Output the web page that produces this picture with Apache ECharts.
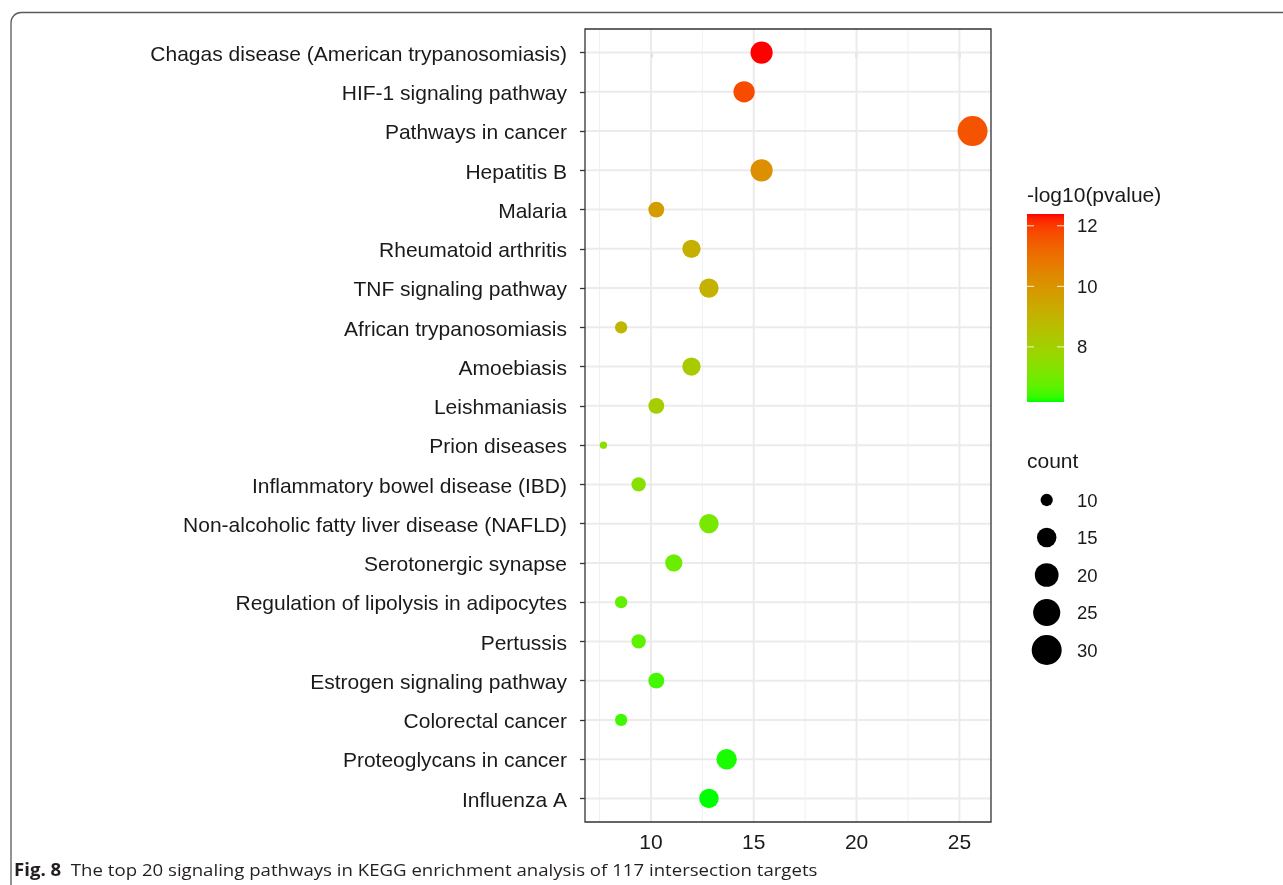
<!DOCTYPE html>
<html><head><meta charset="utf-8">
<script src="https://cdn.jsdelivr.net/npm/echarts@6/dist/echarts.min.js"></script>
<style>html,body{margin:0;padding:0;background:#fff}#c{width:1283px;height:885px}</style>
</head><body><div id="c"></div>
<script>
// ---------------- data ----------------
const pathways = [
  'Chagas disease (American trypanosomiasis)',
  'HIF-1 signaling pathway',
  'Pathways in cancer',
  'Hepatitis B',
  'Malaria',
  'Rheumatoid arthritis',
  'TNF signaling pathway',
  'African trypanosomiasis',
  'Amoebiasis',
  'Leishmaniasis',
  'Prion diseases',
  'Inflammatory bowel disease (IBD)',
  'Non-alcoholic fatty liver disease (NAFLD)',
  'Serotonergic synapse',
  'Regulation of lipolysis in adipocytes',
  'Pertussis',
  'Estrogen signaling pathway',
  'Colorectal cancer',
  'Proteoglycans in cancer',
  'Influenza A'
];
const ratioPct = [15.38, 14.53, 25.64, 15.38, 10.26, 11.97, 12.82, 8.55, 11.97, 10.26,
                  7.69, 9.40, 12.82, 11.11, 8.55, 9.40, 10.26, 8.55, 13.68, 12.82];
const counts   = [18, 17, 30, 18, 12, 14, 15, 10, 14, 12, 9, 11, 15, 13, 10, 11, 12, 10, 16, 15];
const negLogP  = [12.39, 11.75, 11.6, 10.15, 9.75, 9.15, 9.05, 8.9, 8.15, 8.05,
                  7.55, 7.38, 7.08, 6.88, 6.75, 6.7, 6.45, 6.42, 6.26, 6.18];
const xTicks = [10, 15, 20, 25];
const xMinor = [7.5, 12.5, 17.5, 22.5];
const colorTicks = [8, 10, 12];
const sizeLegend = [10, 15, 20, 25, 30];
const caption = 'The top 20 signaling pathways in KEGG enrichment analysis of 117 intersection targets';

// ---------------- helpers ----------------
function s2l(c){c/=255;return c<=0.04045?c/12.92:Math.pow((c+0.055)/1.055,2.4);}
function l2s(c){c=Math.max(0,Math.min(1,c));return Math.round(255*(c<=0.0031308?12.92*c:1.055*Math.pow(c,1/2.4)-0.055));}
function rgb2lab(rgb){const R=s2l(rgb[0]),G=s2l(rgb[1]),B=s2l(rgb[2]);
  const X=(0.4124*R+0.3576*G+0.1805*B)/0.95047,Y=0.2126*R+0.7152*G+0.0722*B,Z=(0.0193*R+0.1192*G+0.9505*B)/1.08883;
  const f=t=>t>0.008856?Math.cbrt(t):7.787*t+16/116;const fx=f(X),fy=f(Y),fz=f(Z);
  return [116*fy-16,500*(fx-fy),200*(fy-fz)];}
function lab2rgb(lab){const fy=(lab[0]+16)/116,fx=fy+lab[1]/500,fz=fy-lab[2]/200;
  const fi=t=>t>0.206893?t*t*t:(t-16/116)/7.787;
  const X=fi(fx)*0.95047,Y=fi(fy),Z=fi(fz)*1.08883;
  const R=3.2406*X-1.5372*Y-0.4986*Z,G=-0.9689*X+1.8758*Y+0.0415*Z,B=0.0557*X-0.2040*Y+1.0570*Z;
  return 'rgb('+l2s(R)+','+l2s(G)+','+l2s(B)+')';}
const labLow = rgb2lab([0,255,0]), labHigh = rgb2lab([255,0,0]);
function rampColor(t){return lab2rgb([0,1,2].map(k=>labLow[k]+(labHigh[k]-labLow[k])*t));}
const NSTOP = 40;
const rampStops = [];
for (let i=0;i<=NSTOP;i++) rampStops.push(rampColor(i/NSTOP));

const pMin = Math.min(...negLogP), pMax = Math.max(...negLogP);
const cMin = Math.min(...counts), cMax = Math.max(...counts);
function sizeFn(c){return 4.53*(1+5*Math.sqrt(Math.max(0,(c-cMin)/(cMax-cMin)))+0.62);}

// ---------------- layout ----------------
const FONT = '"Liberation Sans", Arial, Helvetica, sans-serif';
const G = {left:585, top:29, width:406, height:793};
const span = Math.max(...ratioPct)-Math.min(...ratioPct);
const xMin = Math.min(...ratioPct)-0.05*span, xMax = Math.max(...ratioPct)+0.05*span;

const vLines = xMinor.map(v=>[v, 0, 1]).concat(xTicks.map(v=>[v, 0, 2]));
const hLines = pathways.map((p,i)=>[xMin, i, 2]);

const chart = echarts.init(document.getElementById('c'), null, {renderer:'canvas'});

// colorbar graphic
const CB = {x:1027, y:214, w:37, h:188};
const cbStops = [];
for (let i=0;i<=NSTOP;i++) cbStops.push({offset:i/NSTOP, color:rampColor(1-i/NSTOP)});
const graphics = [];
graphics.push({type:'rect', silent:true, shape:{x:11, y:12.5, width:1400, height:1000, r:[10,0,0,0]},
  style:{fill:'none', stroke:'#5a5a5a', lineWidth:1.3}});
graphics.push({type:'text', style:{x:1027, y:196, text:'-log10(pvalue)', fill:'#1a1a1a', font:'21px '+FONT, align:'left', verticalAlign:'middle'}});
graphics.push({type:'rect', shape:{x:CB.x, y:CB.y, width:CB.w, height:CB.h},
  style:{fill:new echarts.graphic.LinearGradient(0,0,0,1,cbStops)}});
colorTicks.forEach(v=>{
  const y = CB.y + (pMax-v)/(pMax-pMin)*CB.h;
  graphics.push({type:'line', shape:{x1:CB.x, y1:y, x2:CB.x+7, y2:y}, style:{stroke:'rgba(255,255,255,0.85)', lineWidth:1}});
  graphics.push({type:'line', shape:{x1:CB.x+CB.w-7, y1:y, x2:CB.x+CB.w, y2:y}, style:{stroke:'rgba(255,255,255,0.85)', lineWidth:1}});
  graphics.push({type:'text', style:{x:1077, y:y+1.5, text:String(v), fill:'#1a1a1a', font:'18.5px '+FONT, align:'left', verticalAlign:'middle'}});
});
graphics.push({type:'text', style:{x:1027, y:462, text:'count', fill:'#1a1a1a', font:'21px '+FONT, align:'left', verticalAlign:'middle'}});
sizeLegend.forEach((c,i)=>{
  const y = 500 + i*37.5;
  graphics.push({type:'circle', shape:{cx:1046.7, cy:y, r:sizeFn(c)/2}, style:{fill:'#000'}});
  graphics.push({type:'text', style:{x:1077, y:y+1.5, text:String(c), fill:'#1a1a1a', font:'18.5px '+FONT, align:'left', verticalAlign:'middle'}});
});
graphics.push({type:'text', x:14, y:871, scaleX:1.095, originX:0, originY:0,
  style:{x:0, y:0, text:'{b|Fig. 8}  '+caption, fill:'#231f20',
  font:'17px "Open Sans", sans-serif', verticalAlign:'middle',
  rich:{b:{fontWeight:'bold', fontSize:17, fontFamily:'"Open Sans", sans-serif', fill:'#231f20'}}}});

const option = {
  animation:false,
  backgroundColor:'#fff',
  grid:{left:G.left, top:G.top, width:G.width, height:G.height, show:true, borderColor:'#333', borderWidth:1.3, backgroundColor:'transparent', z:2},
  xAxis:{type:'value', min:xMin, max:xMax,
    axisLine:{show:false}, splitLine:{show:false},
    axisTick:{show:true, length:5, lineStyle:{color:'#333', width:1.3}, customValues:xTicks},
    axisLabel:{customValues:xTicks, color:'#1a1a1a', fontSize:21, fontFamily:FONT, margin:11}},
  yAxis:{type:'value', inverse:true, min:-0.6, max:pathways.length-1+0.6,
    axisLine:{show:false}, splitLine:{show:false},
    axisTick:{show:true, length:5, lineStyle:{color:'#333', width:1.3}, customValues:pathways.map((p,i)=>i)},
    axisLabel:{customValues:pathways.map((p,i)=>i), formatter:v=>'{a|'+pathways[Math.round(v)]+'}',
      color:'#1a1a1a', fontSize:21, fontFamily:FONT, margin:18,
      rich:{a:{color:'#1a1a1a', fontSize:21, fontFamily:FONT, padding:[5,0,0,0]}}}},
  visualMap:{type:'continuous', show:false, dimension:2, min:pMin, max:pMax, seriesIndex:0,
    inRange:{color:rampStops}},
  series:[
    {type:'scatter', z:3,
      data:pathways.map((p,i)=>[ratioPct[i], i, negLogP[i], counts[i]]),
      symbol:'circle', symbolSize:v=>sizeFn(v[3]),
      itemStyle:{opacity:1}},
    {type:'custom', z:1, silent:true, data:vLines,
      renderItem:(params, api)=>{
        const cs = params.coordSys;
        const x = api.coord([api.value(0), 0])[0];
        return {type:'line', shape:{x1:x, y1:cs.y, x2:x, y2:cs.y+cs.height},
          style:{stroke: api.value(2) > 1 ? '#EBEBEB' : '#F0F0F0', lineWidth: api.value(2)}};
      }},
    {type:'custom', z:1, silent:true, data:hLines,
      renderItem:(params, api)=>{
        const cs = params.coordSys;
        const y = api.coord([api.value(0), api.value(1)])[1];
        return {type:'line', shape:{x1:cs.x, y1:y, x2:cs.x+cs.width, y2:y},
          style:{stroke:'#EBEBEB', lineWidth: api.value(2)}};
      }}
  ],
  graphic:graphics
};
chart.setOption(option);
</script>
</body></html>
